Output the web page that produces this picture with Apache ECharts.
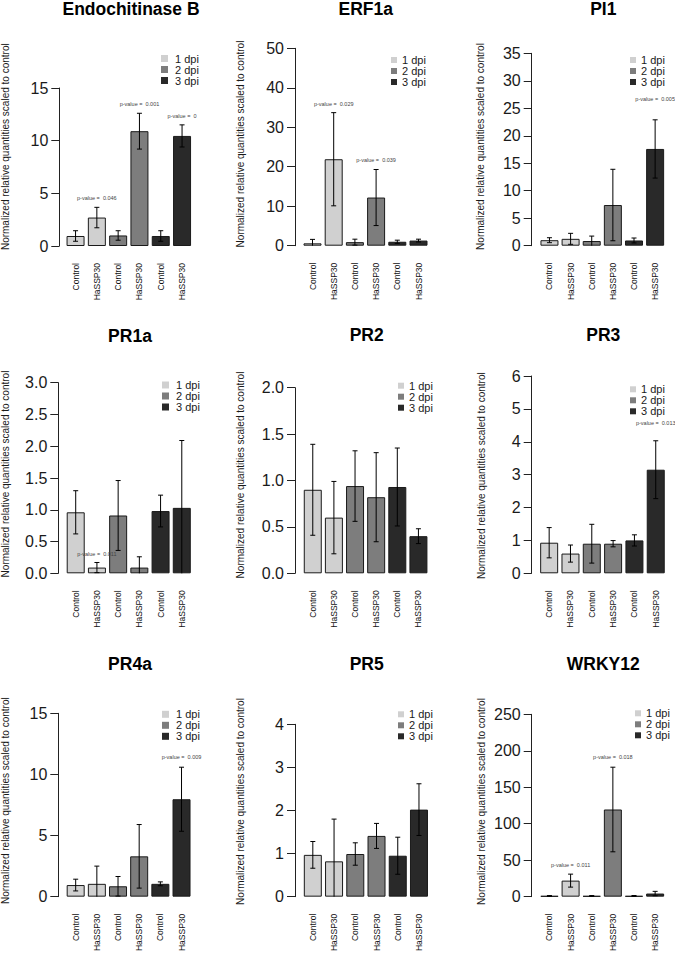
<!DOCTYPE html>
<html><head><meta charset="utf-8">
<script src="https://cdn.jsdelivr.net/npm/echarts@6/dist/echarts.min.js"></script>
<style>html,body{margin:0;padding:0;background:#fff}#c{width:675px;height:954px}</style>
</head><body><div id="c"></div>
<script>
// ---------- data ----------
const genes = ['Endochitinase B','ERF1a','PI1','PR1a','PR2','PR3','PR4a','PR5','WRKY12'];
const categories = ['Control','HaSSP30','Control','HaSSP30','Control','HaSSP30'];
const dpiNames = ['1 dpi','2 dpi','3 dpi'];
const yLabel = 'Normalized relative quantities scaled to control';

const endoMean  = [0.95, 2.7, 1.0, 10.9, 0.95, 10.45];
const endoErr   = [0.5, 0.97, 0.45, 1.7, 0.5, 1.05];
const erfMean   = [0.6, 21.9, 0.9, 12.2, 1.0, 1.3];
const erfErr    = [1.0, 11.8, 0.75, 7.1, 0.4, 0.35];
const pi1Mean   = [1.0, 1.25, 0.85, 7.4, 0.95, 17.6];
const pi1Err    = [0.45, 1.0, 0.9, 6.5, 0.45, 5.3];
const pr1aMean  = [0.96, 0.09, 0.91, 0.09, 0.98, 1.03];
const pr1aErr   = [0.34, 0.08, 0.55, 0.17, 0.25, 1.06];
const pr2Mean   = [0.9, 0.6, 0.94, 0.82, 0.93, 0.4];
const pr2Err    = [0.49, 0.39, 0.38, 0.48, 0.42, 0.08];
const pr3Mean   = [0.93, 0.6, 0.9, 0.9, 1.0, 3.15];
const pr3Err    = [0.46, 0.26, 0.59, 0.095, 0.17, 0.88];
const pr4aMean  = [0.95, 1.05, 0.85, 3.3, 1.05, 7.97];
const pr4aErr   = [0.48, 1.45, 0.8, 2.6, 0.16, 2.62];
const pr5Mean   = [0.97, 0.82, 0.99, 1.41, 0.95, 2.02];
const pr5Err    = [0.31, 0.98, 0.26, 0.29, 0.43, 0.6];
const wrkyMean  = [1.0, 22.0, 1.0, 119.5, 1.0, 4.3];
const wrkyErr   = [0.5, 8.9, 0.5, 58, 0.6, 3.0];

const yMax      = [15, 50, 35, 3, 2, 6, 15, 4, 250];
const yStep     = [5, 10, 5, 0.5, 0.5, 1, 5, 1, 50];
const yDecimals = [0, 0, 0, 1, 1, 0, 0, 0, 0];

// p-value annotations: [bar index, p-value text, label height in data units]
const endoP = [[1,'0.046',4.53],[3,'0.001',13.5],[5,'0',12.37]];
const erfP  = [[1,'0.029',35.9],[3,'0.039',21.7]];
const pi1P  = [[5,'0.005',26.7]];
const pr1aP = [[1,'0.011',0.31]];
const pr2P  = [];
const pr3P  = [[5,'0.013',4.58]];
const pr4aP = [[5,'0.009',11.42]];
const pr5P  = [];
const wrkyP = [[1,'0.011',43.2],[3,'0.018',191.5]];

const means = [endoMean, erfMean, pi1Mean, pr1aMean, pr2Mean, pr3Mean, pr4aMean, pr5Mean, wrkyMean];
const errs  = [endoErr, erfErr, pi1Err, pr1aErr, pr2Err, pr3Err, pr4aErr, pr5Err, wrkyErr];
const pvals = [endoP, erfP, pi1P, pr1aP, pr2P, pr3P, pr4aP, pr5P, wrkyP];

// ---------- layout (pixels) ----------
const layout = [
  {axisX:59.3, left:64.9, width:127.8, top:88,    zero:246,   title:[131,9],     ylab:[5.5,146.7],   leg:[161,58.5], icon:7, pad:2},
  {axisX:295,  left:301.9,width:127.2, top:48.3,  zero:245.7, title:[365.7,9],   ylab:[240,144],     leg:[391,60],   icon:6, pad:0},
  {axisX:531.7,left:538.9,width:126.8, top:53.3,  zero:245.7, title:[603.3,9],   ylab:[480,146.5],   leg:[630,60],   icon:6, pad:0},
  {axisX:58.3, left:65.1, width:127.3, top:382.7, zero:573.3, title:[130,336],   ylab:[5.5,474],     leg:[162,385],  icon:7, pad:2},
  {axisX:295,  left:302.2,width:126.8, top:387.7, zero:573.3, title:[366.7,335], ylab:[240.7,475],   leg:[398,385.7],icon:6, pad:0},
  {axisX:531.7,left:538.5,width:127.9, top:376,   zero:573.3, title:[603.3,335], ylab:[481.7,475.7], leg:[630,389.3],icon:6, pad:0},
  {axisX:58.3, left:65.1, width:127,   top:713.3, zero:901.7, title:[130,664],   ylab:[5.5,800.7],   leg:[162,714.3],icon:7, pad:2},
  {axisX:295,  left:302.2,width:127.4, top:724.3, zero:901.7, title:[366.7,664], ylab:[240.7,801.5], leg:[398,714.3],icon:6, pad:0},
  {axisX:531.7,left:538.9,width:126.8, top:714.3, zero:901.7, title:[603.3,664], ylab:[481.7,801.5], leg:[635,713.3],icon:6, pad:0}
];
const colors = ['#d0d0d0', '#7d7d7d', '#292929'];
const FONT = '"Liberation Sans", Arial, Helvetica, sans-serif';

const grids = [], xAxes = [], yAxes = [], series = [], legends = [], graphics = [];

layout.forEach((L, k) => {
  grids.push({left: L.left, top: L.top, width: L.width, height: L.zero - L.top, containLabel: false});
  xAxes.push({
    type: 'category', gridIndex: k, data: categories,
    axisLine: {show: false}, axisTick: {show: false},
    axisLabel: {rotate: 90, interval: 0, fontSize: 8.5, margin: 17, color: '#111', fontFamily: FONT}
  });
  yAxes.push({
    type: 'value', gridIndex: k, min: 0, max: yMax[k], interval: yStep[k],
    offset: L.left - L.axisX,
    axisLine: {show: true, lineStyle: {color: '#222', width: 1}},
    axisTick: {show: true, length: 8, lineStyle: {color: '#222', width: 1}},
    splitLine: {show: false},
    axisLabel: {fontSize: 16, color: '#1a1a1a', margin: 11, fontFamily: FONT,
      formatter: v => v.toFixed(yDecimals[k])}
  });
  for (let d = 0; d < 3; d++) {
    series.push({
      type: 'bar', name: dpiNames[d], xAxisIndex: k, yAxisIndex: k,
      barWidth: 18, barGap: '-100%',
      itemStyle: {color: colors[d], borderColor: '#1a1a1a', borderWidth: 1},
      data: means[k].map((v, i) => (Math.floor(i / 2) === d ? v : '-')),
      z: 2
    });
  }
  series.push({
    type: 'custom', xAxisIndex: k, yAxisIndex: k, z: 5,
    data: means[k].map((m, i) => [i, m - errs[k][i], m + errs[k][i]]),
    renderItem: function (params, api) {
      const i = api.value(0), lo = api.value(1), hi = api.value(2);
      const top = api.coord([i, hi]);
      const bot = api.coord([i, Math.max(lo, 0)]);
      const hw = 2.5;
      const st = {stroke: '#000', lineWidth: 1};
      const ch = [
        {type: 'line', shape: {x1: top[0], y1: top[1], x2: bot[0], y2: bot[1]}, style: st},
        {type: 'line', shape: {x1: top[0] - hw, y1: top[1], x2: top[0] + hw, y2: top[1]}, style: st}
      ];
      if (lo >= 0) ch.push({type: 'line', shape: {x1: bot[0] - hw, y1: bot[1], x2: bot[0] + hw, y2: bot[1]}, style: st});
      return {type: 'group', children: ch};
    }
  });
  if (pvals[k].length) {
    series.push({
      type: 'custom', xAxisIndex: k, yAxisIndex: k, z: 6,
      data: pvals[k].map(p => [p[0], p[2]]),
      renderItem: function (params, api) {
        const pt = api.coord([api.value(0), api.value(1)]);
        return {type: 'text', x: pt[0], y: pt[1],
          style: {text: 'p-value =  ' + pvals[k][params.dataIndex][1],
            textAlign: 'center', textVerticalAlign: 'middle', fontSize: 5.5, fontFamily: FONT, fill: '#444'}};
      }
    });
  }
  legends.push({
    data: dpiNames, orient: 'vertical', left: L.leg[0], top: L.leg[1] - 5.5,
    itemWidth: L.icon, itemHeight: L.icon, itemGap: 0, icon: 'rect',
    padding: 0, selectedMode: false,
    itemStyle: {borderWidth: 0},
    textStyle: {fontSize: 11, lineHeight: 11, color: '#1a1a1a', fontFamily: FONT, padding: [0, 0, 0, L.pad]}
  });
  graphics.push({
    type: 'text', x: L.title[0], y: L.title[1],
    style: {text: genes[k], textAlign: 'center', textVerticalAlign: 'middle',
      fontSize: 17.5, fontWeight: 'bold', fontFamily: FONT, fill: '#000'}
  });
  graphics.push({
    type: 'text', x: L.ylab[0], y: L.ylab[1], rotation: Math.PI / 2,
    style: {text: yLabel, textAlign: 'center', textVerticalAlign: 'middle',
      fontSize: 10, fontFamily: FONT, fill: '#1a1a1a'}
  });
});

const chart = echarts.init(document.getElementById('c'), null, {renderer: 'svg', width: 675, height: 954});
chart.setOption({
  backgroundColor: '#fff',
  animation: false,
  textStyle: {color: '#1a1a1a', fontFamily: FONT},
  grid: grids, xAxis: xAxes, yAxis: yAxes,
  legend: legends,
  graphic: graphics,
  series: series
});
</script>
</body></html>
